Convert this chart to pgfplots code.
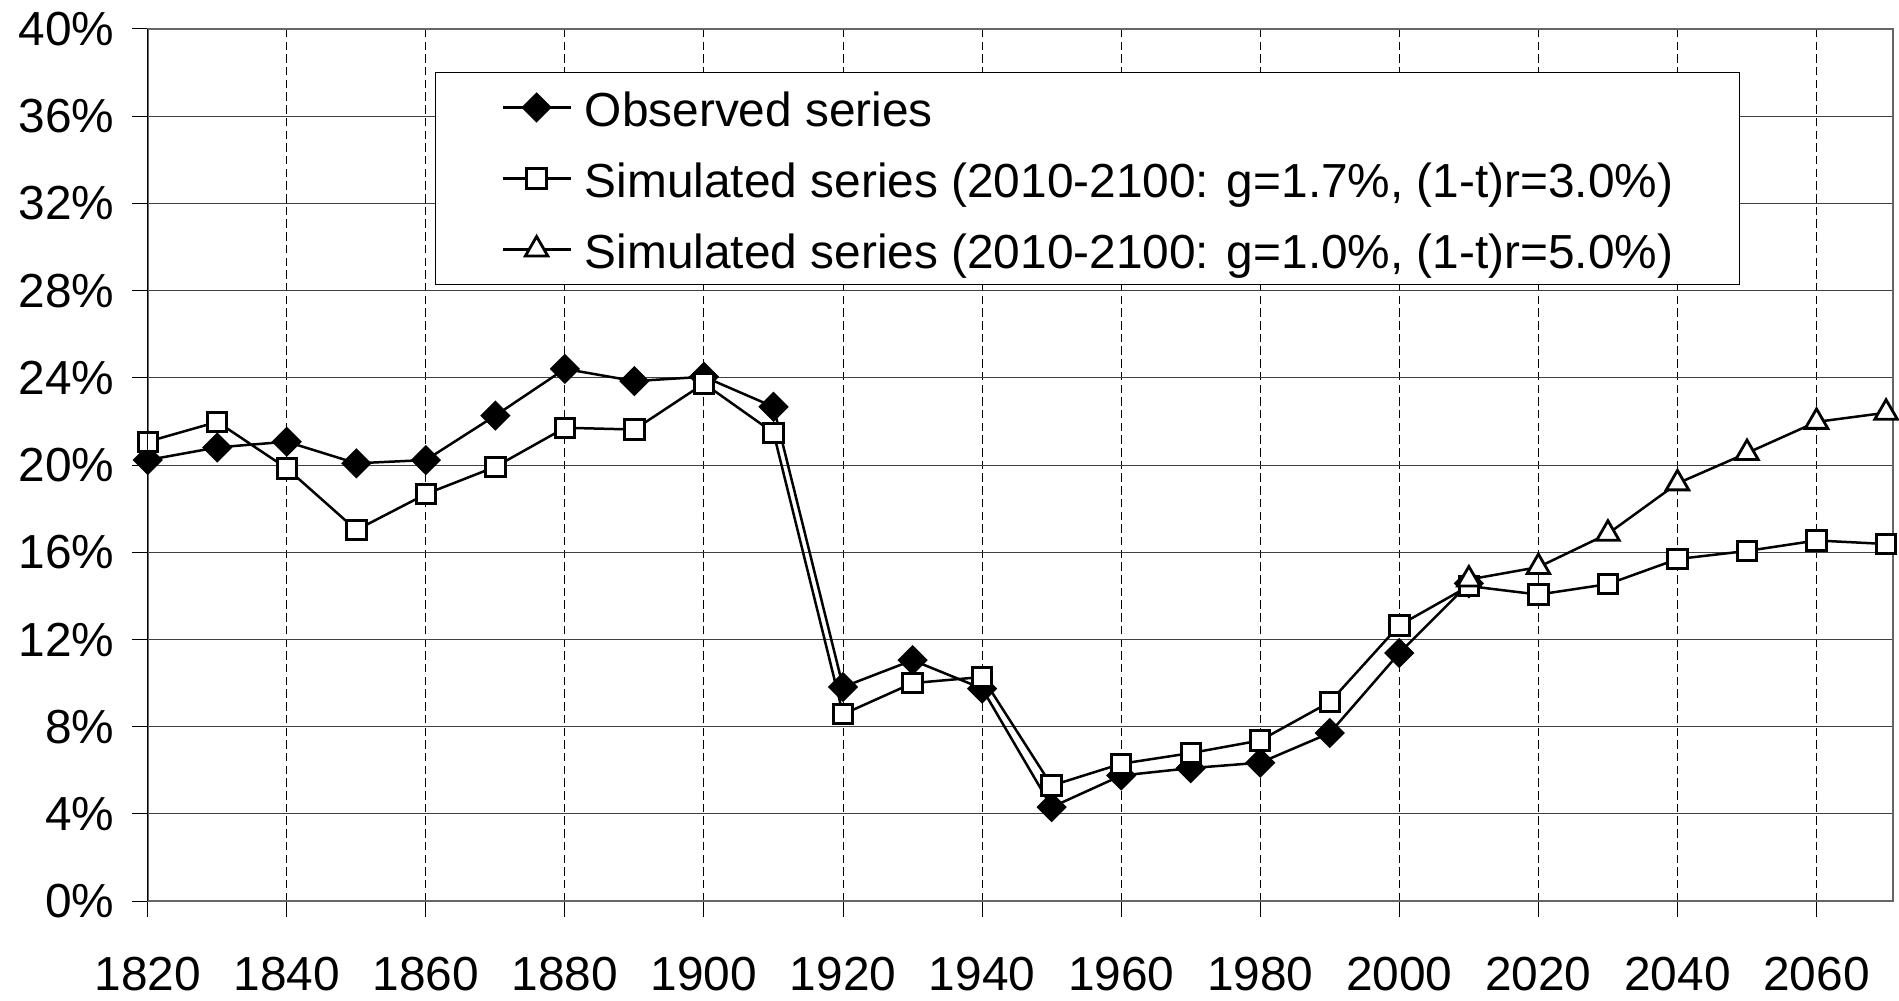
\documentclass[border=0pt]{standalone}
\usepackage{pgfplots}
\pgfplotsset{compat=1.18}
\usepackage{fontspec}
\setmainfont{Liberation Sans}
\pgfplotstableread{
year obs
1820 20.23
1830 20.81
1840 21.07
1850 20.08
1860 20.23
1870 22.27
1880 24.41
1890 23.85
1900 24.05
1910 22.67
1920 9.82
1930 11.05
1940 9.75
1950 4.31
1960 5.76
1970 6.10
1980 6.35
1990 7.71
2000 11.38
2010 14.57
}\observed
\pgfplotstableread{
year sim
1820 21.07
1830 21.98
1840 19.85
1850 17.02
1860 18.67
1870 19.92
1880 21.71
1890 21.63
1900 23.74
1910 21.48
1920 8.57
1930 10.00
1940 10.28
1950 5.30
1960 6.30
1970 6.79
1980 7.37
1990 9.13
2000 12.65
2010 14.45
2020 14.06
2030 14.54
2040 15.69
2050 16.06
2060 16.54
2070 16.38
}\simA
\pgfplotstableread{
year sim
2010 14.75
2020 15.32
2030 16.85
2040 19.16
2050 20.55
2060 21.98
2070 22.40
}\simB
\begin{document}
\fontsize{13.6pt}{16pt}\selectfont
\begin{tikzpicture}[x=1mm,y=1mm]
\path[use as bounding box] (-14.77,-9.9) rectangle (175.1,90.1);
\begin{axis}[
  name=ax,
  at={(0,0)}, anchor=south west,
  scale only axis, width=174.5mm, height=87.2mm,
  xmin=1820, xmax=2071, ymin=0, ymax=40,
  xtick={1820,1840,...,2060}, ytick={0,4,...,40},
  xmajorgrids, ymajorgrids,
  x grid style={black, line width=0.1mm, dash pattern=on 0.85mm off 0.42mm},
  y grid style={black!75, line width=0.1mm},
  tick align=outside, xtick pos=left, ytick pos=left,
  major tick length=1.55mm,
  tick style={black, line width=0.1mm},
  axis line style={draw=black!60, line width=0.2mm},
  tick label style={font=\fontsize{13.6pt}{16pt}\selectfont},
  xticklabel style={anchor=north, inner sep=0pt, yshift=-4.0mm},
  yticklabel style={anchor=east, inner sep=0pt, xshift=-1.7mm},
  /pgf/number format/1000 sep={},
  /pgf/number format/assume math mode=true,
  yticklabel={\pgfmathprintnumber{\tick}\%},
  legend cell align=left,
  legend style={at={(0.1645,0.9507)}, anchor=north west, draw=black, line width=0.1mm,
    fill=white, inner xsep=6.6mm, inner ysep=0.4mm, row sep=0.9mm, column sep=1.3mm,
    nodes={inner sep=0pt, text height=5.0mm, text depth=1.2mm, font=\fontsize{13.6pt}{16pt}\selectfont}},
  legend image code/.code={\draw[#1, mark repeat=2, mark phase=2] plot coordinates {(0mm,0mm)(3.4mm,0mm)(6.8mm,0mm)};},
]
\addplot[black, line width=0.25mm, mark=square*, mark size=0.97mm,
  mark options={rotate=45, fill=black, line width=0.2mm, solid}] table[x=year,y=obs] {\observed};
\addlegendentry{Observed series}
\addplot[black, line width=0.25mm, mark=square*, mark size=0.97mm,
  mark options={fill=white, line width=0.3mm, solid}] table[x=year,y=sim] {\simA};
\addlegendentry{Simulated series (2010-2100: g=1.7\%, (1-t)r=3.0\%)}
\addplot[black, line width=0.25mm, mark=triangle*, mark size=1.3mm,
  mark options={fill=white, line width=0.28mm, solid}] table[x=year,y=sim] {\simB};
\addlegendentry{Simulated series (2010-2100: g=1.0\%, (1-t)r=5.0\%)}
\end{axis}
\draw[black, line width=0.1mm] (ax.south west) -- (ax.north west);
\end{tikzpicture}
\end{document}
